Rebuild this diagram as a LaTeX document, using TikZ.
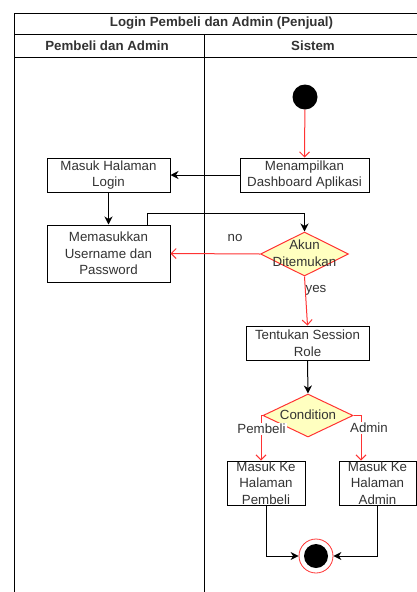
\documentclass[tikz,border=0pt]{standalone}
\usepackage{fontspec}
\setmainfont{Liberation Sans}
\usetikzlibrary{shapes.geometric,arrows.meta}
\definecolor{txt}{HTML}{333333}
\definecolor{decfill}{HTML}{FFFFC0}
\definecolor{flowred}{HTML}{FF3333}
\tikzset{
  every node/.style={font=\fontsize{13.3}{16.5}\selectfont, text=txt},
  actbox/.style={draw=black, fill=white, line width=1pt, inner sep=0pt, align=center},
  decision/.style={diamond, draw=flowred, fill=decfill, line width=1pt, inner sep=0pt},
  plainlbl/.style={inner sep=0pt, align=center},
  headlbl/.style={plainlbl, font=\bfseries\fontsize{13.3}{16.5}\selectfont},
  blackflow/.style={draw=black, line width=1pt, -{Stealth[length=8pt,width=8pt,inset=2.5pt]}},
  redflow/.style={draw=flowred, line width=1pt, -{Straight Barb[length=5pt,width=10pt]}},
  lane/.style={draw=black, line width=1pt}
}
\begin{document}
\begin{tikzpicture}[x=1pt,y=-1pt]
\useasboundingbox (0,0) rectangle (417,592);
\clip (0,0) rectangle (417,592);
\fill[white] (0,0) rectangle (417,592);

% swimlane frame
\draw[lane] (14,600) -- (14,13) -- (429,13) -- (429,600);
\draw[lane] (14,34.5) -- (429,34.5);
\draw[lane] (14,57) -- (429,57);
\draw[lane] (204,34.5) -- (204,600);
\node[headlbl] (title) at (221.5,23) {Login Pembeli dan Admin (Penjual)};
\node[headlbl] (laneA) at (107,45.5) {Pembeli dan Admin};
\node[headlbl] (laneB) at (313,45.5) {Sistem};

% activities
\node[circle, fill=black, minimum size=25pt, inner sep=0pt] (start) at (305,97) {};
\node[actbox, minimum width=129pt, minimum height=34pt] (dash) at (304.5,175) {Menampilkan\\Dashboard Aplikasi};
\node[actbox, minimum width=123pt, minimum height=34pt] (login) at (108.5,175) {Masuk Halaman\\Login};
\node[actbox, minimum width=123pt, minimum height=57pt] (input) at (108.5,253.5) {Memasukkan\\Username dan\\Password};
\node[decision, minimum width=88pt, minimum height=44pt] (akun) at (304.5,254) {};
\node[plainlbl] (akuntxt) at (304.5,253) {Akun\\Ditemukan};
\node[actbox, minimum width=123pt, minimum height=34pt] (role) at (307.5,343) {Tentukan Session\\Role};
\node[decision, minimum width=90pt, minimum height=43pt] (cond) at (308,415.5) {};
\node[plainlbl] (condtxt) at (308,415) {Condition};
\node[actbox, minimum width=78pt, minimum height=44pt] (pemb) at (266,483) {};
\node[plainlbl] (pembtxt) at (266,483) {Masuk Ke\\Halaman\\Pembeli};
\node[actbox, minimum width=77pt, minimum height=44pt] (admin) at (377.5,483) {};
\node[plainlbl] (admintxt) at (377.5,483) {Masuk Ke\\Halaman\\Admin};
\node[circle, draw=flowred, fill=white, line width=0.8pt, minimum size=34pt, inner sep=0pt] (final) at (316,556) {};
\node[circle, fill=black, minimum size=24pt, inner sep=0pt] (finaldot) at (316,556) {};

% flows
\draw[redflow] (start) -- (dash.north);
\draw[blackflow] (dash.west) -- (login.east);
\draw[blackflow] (login.south) -- (input.north);
\draw[blackflow] ([xshift=38.5pt]input.north) -- ++(0,-11) -| (akun.north);
\draw[redflow] (akun.west) -- (input.east);
\node[plainlbl] (nolbl) at (235,238) {no};
\draw[redflow] (akun.south) -- (role.north);
\node[plainlbl] (yeslbl) at (316,290) {yes};
\draw[blackflow] (role.south) -- (cond.north);
\draw[redflow] (cond.west) -| ([xshift=-5pt]pemb.north);
\draw[redflow] (cond.east) -| ([xshift=-16.5pt]admin.north);
\node[plainlbl, fill=white, inner sep=1pt] (pemblbl) at (261.5,429) {Pembeli};
\node[plainlbl, fill=white, inner sep=1pt] (adminlbl) at (369,428) {Admin};
\draw[blackflow] (pemb.south) |- (final.west);
\draw[blackflow] (admin.south) |- (final.east);
\end{tikzpicture}
\end{document}
